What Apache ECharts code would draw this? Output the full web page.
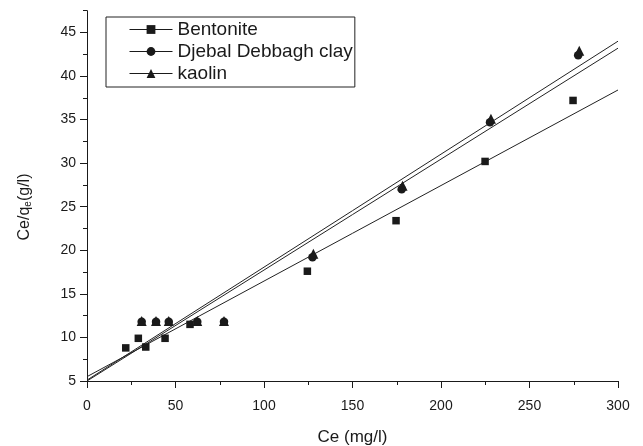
<!DOCTYPE html>
<html>
<head>
<meta charset="utf-8">
<script src="https://cdn.jsdelivr.net/npm/echarts@6/dist/echarts.min.js"></script>
<style>
  html, body { margin: 0; padding: 0; background: #fff; }
  #chart { width: 643px; height: 446px; }
</style>
</head>
<body>
<div id="chart"></div>
<script>
// Langmuir linear plot: Ce/qe versus Ce for three clays
const seriesNames = ['Bentonite', 'Djebal Debbagh clay', 'kaolin'];

const bentoniteCe = [21.9, 29.0, 33.2, 44.1, 58.2, 124.5, 174.6, 224.9, 274.6];
const bentoniteRatio = [8.8, 9.9, 8.9, 9.9, 11.5, 17.6, 23.4, 30.2, 37.2];

const djebalCe = [30.9, 39.0, 46.2, 62.3, 77.4, 127.4, 177.8, 227.7, 277.5];
const djebalRatio = [11.8, 11.8, 11.8, 11.8, 11.8, 19.2, 27.0, 34.7, 42.4];

const kaolinCe = [30.9, 39.0, 46.2, 62.3, 77.4, 127.9, 178.3, 228.2, 278.1];
const kaolinRatio = [11.9, 11.9, 11.9, 11.9, 11.9, 19.6, 27.4, 35.1, 42.9];

// Linear fit lines, endpoints at Ce = 0 and Ce = 300
const fitCe = [0, 300];
const bentoniteFit = [5.5, 38.4];
const djebalFit = [5.0, 43.2];
const kaolinFit = [5.1, 44.0];

const xTicks = [0, 50, 100, 150, 200, 250, 300];
const yMajorTicks = [5, 10, 15, 20, 25, 30, 35, 40, 45];
const yMinorTicks = [7.5, 12.5, 17.5, 22.5, 27.5, 32.5, 37.5, 42.5, 47.5];

const pairs = (xs, ys) => xs.map((x, i) => [x, ys[i]]);

const FONT = '"Liberation Sans", Arial, sans-serif';
const INK = '#1a1a1a';

const chart = echarts.init(document.getElementById('chart'), null, { renderer: 'canvas' });

const pointSeries = (name, xs, ys, symbol, size) => ({
  name: name,
  type: 'line',
  data: pairs(xs, ys),
  symbol: symbol,
  symbolSize: size,
  showSymbol: true,
  lineStyle: { width: 0, opacity: 0 },
  itemStyle: { color: INK },
  emphasis: { disabled: true },
  animation: false,
  z: 3
});

const fitSeries = (ys) => ({
  type: 'line',
  data: pairs(fitCe, ys),
  symbol: 'none',
  lineStyle: { color: '#222', width: 1 },
  emphasis: { disabled: true },
  animation: false,
  silent: true,
  z: 2
});

chart.setOption({
  animation: false,
  backgroundColor: '#fff',
  grid: { left: 87, right: 25, top: 10.7, bottom: 65, containLabel: false, outerBoundsMode: 'none' },
  legend: {
    data: seriesNames,
    orient: 'vertical',
    left: 106,
    top: 17,
    padding: [3, 2, 4, 23],
    itemWidth: 43,
    itemHeight: 11,
    itemGap: 3,
    borderColor: '#222',
    borderWidth: 1,
    borderRadius: 0,
    selectedMode: false,
    lineStyle: { width: 1, opacity: 1, color: INK, type: 'solid' },
    textStyle: { fontFamily: FONT, fontSize: 19, color: INK }
  },
  xAxis: {
    type: 'value',
    min: 0,
    max: 300,
    interval: 50,
    name: 'Ce (mg/l)',
    nameLocation: 'middle',
    nameGap: 48,
    nameTextStyle: { fontFamily: FONT, fontSize: 17, color: INK },
    axisLine: { lineStyle: { color: INK, width: 1 } },
    axisTick: { show: true, inside: false, length: 7, lineStyle: { color: INK } },
    minorTick: { show: true, splitNumber: 2, length: 4, lineStyle: { color: INK } },
    axisLabel: {
      fontFamily: FONT, fontSize: 14, color: INK, margin: 18,
      customValues: xTicks
    },
    splitLine: { show: false },
    minorSplitLine: { show: false }
  },
  yAxis: [
    {
      type: 'value',
      min: 5,
      max: 47.5,
      interval: 5,
      axisLine: { show: true, lineStyle: { color: INK, width: 1 } },
      axisTick: { show: true, inside: false, length: 7, lineStyle: { color: INK }, customValues: yMajorTicks },
      axisLabel: {
        fontFamily: FONT, fontSize: 14, color: INK, margin: 11,
        customValues: yMajorTicks
      },
      splitLine: { show: false }
    },
    {
      type: 'value',
      min: 5,
      max: 47.5,
      position: 'left',
      axisLine: { show: false },
      axisTick: { show: true, inside: false, length: 4, lineStyle: { color: INK }, customValues: yMinorTicks },
      axisLabel: { show: false },
      splitLine: { show: false }
    }
  ],
  graphic: [
    {
      type: 'text',
      x: 24,
      y: 207,
      rotation: Math.PI / 2,
      style: {
        text: '{a|Ce/q}{s|e}{a|(g/l)}',
        align: 'center',
        verticalAlign: 'middle',
        fill: INK,
        rich: {
          a: { fontFamily: FONT, fontSize: 16, fill: INK, verticalAlign: 'bottom' },
          s: { fontFamily: FONT, fontSize: 10, fill: INK, padding: [8, 0, 0, 0], verticalAlign: 'bottom' }
        }
      }
    }
  ],
  series: [
    fitSeries(bentoniteFit),
    fitSeries(djebalFit),
    fitSeries(kaolinFit),
    pointSeries(seriesNames[0], bentoniteCe, bentoniteRatio, 'rect', 7.5),
    pointSeries(seriesNames[1], djebalCe, djebalRatio, 'circle', 8.5),
    pointSeries(seriesNames[2], kaolinCe, kaolinRatio, 'triangle', 10)
  ]
});
</script>
</body>
</html>
